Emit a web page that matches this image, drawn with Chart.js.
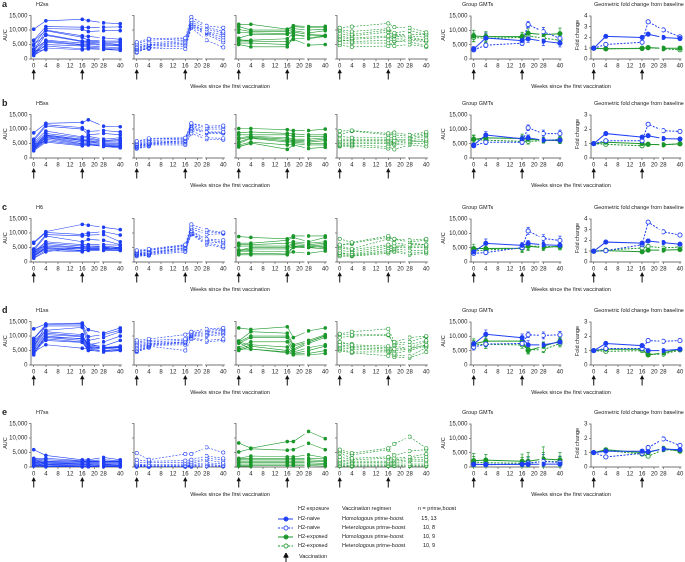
<!DOCTYPE html>
<html>
<head>
<meta charset="utf-8">
<script src="https://cdn.jsdelivr.net/npm/chart.js@4.4.1/dist/chart.umd.min.js"></script>
<style>
  body { margin: 0; width: 685px; height: 562px; position: relative; background: #fff; overflow: hidden;
         font-family: "Liberation Sans", Arial, sans-serif; color: #222; }
  canvas { position: absolute; }
  .t { position: absolute; white-space: nowrap; line-height: 1; }
</style>
</head>
<body>
<script>
// sampling weeks and axis ticks
const weeks = [0, 4, 16, 18, 28, 40];
const tickWeeks = [0, 4, 8, 12, 16, 20, 28, 40];
const vaccWeeks = [0, 16];
const antigens = ['H2ss', 'H5ss', 'H6', 'H1ss', 'H7ss'];
const foldMax = [4, 3, 4, 3, 3];

// individual AUC (x1000), one row per participant, columns = weeks
const a_naiveHom = [
  [10.3, 13.2, 13.7, 13.3, 12.5, 12.2], [6.5, 11.2, 11.0, 10.9, 11.0, 11.1], [4.7, 10.5, 10.3, 9.5, 9.8, 9.8],
  [6.2, 10.0, 8.0, 7.8, 7.3, 6.8], [3.0, 9.8, 7.5, 6.5, 6.2, 6.2], [2.5, 8.5, 6.2, 6.2, 5.8, 5.8],
  [5.0, 8.2, 6.0, 5.8, 5.5, 5.0], [2.0, 6.5, 5.5, 5.5, 5.0, 4.8], [3.5, 6.2, 5.0, 5.0, 4.8, 4.5],
  [1.8, 5.8, 4.8, 4.5, 4.2, 3.8], [1.5, 5.0, 4.5, 4.0, 3.8, 3.5], [2.2, 4.5, 3.5, 3.8, 3.5, 3.2],
  [1.2, 3.8, 3.2, 3.5, 3.3, 3.0], [1.6, 3.5, null, null, null, null], [2.8, 3.2, null, null, null, null]
];
const a_naiveHet = [
  [5.8, 7.0, 7.3, 14.5, 11.5, 10.8], [5.3, 6.5, 7.0, 13.5, 11.0, 9.5], [4.8, 5.5, 6.5, 12.8, 10.3, 9.0],
  [4.2, 5.0, 6.0, 12.3, 9.5, 8.3], [3.8, 4.8, 5.5, 12.0, 9.2, 7.5], [3.5, 4.5, 5.0, 11.5, 9.0, 6.5],
  [3.2, 4.0, 4.5, 11.0, 8.5, 5.8], [2.5, 3.8, 3.5, 10.8, 6.5, 4.0], [3.0, 3.5, null, null, null, null],
  [2.2, 4.2, null, null, null, null]
];
const a_expHom = [
  [12.0, 12.0, 10.3, 11.5, 11.2, 11.3], [11.2, 10.0, 10.0, 11.2, 10.8, 10.8], [10.2, 9.5, 9.5, 10.5, 10.0, 10.3],
  [9.2, 9.0, 8.8, 9.8, 9.0, 9.8], [7.2, 8.5, 8.5, 9.3, 8.5, 8.2], [6.5, 6.5, 7.0, 8.8, 7.3, 8.0],
  [6.2, 6.2, 6.0, 7.0, 7.0, 7.8], [5.5, 5.5, 5.0, 6.8, 4.8, 5.0], [5.0, 4.2, 4.2, 8.0, 8.3, 8.0],
  [6.8, 6.0, null, null, null, null]
];
const a_expHet = [
  [10.8, 11.2, 12.3, 11.0, 10.8, 9.2], [10.2, 9.5, 10.5, 9.0, 9.8, 8.5], [9.8, 8.5, 10.0, 8.5, 8.5, 8.5],
  [8.8, 8.0, 9.3, 8.0, 8.0, 7.5], [8.0, 7.2, 8.0, 7.8, 7.5, 6.5], [7.5, 6.8, 7.5, 7.0, 6.8, 6.5],
  [6.8, 6.0, 6.5, 6.2, 6.0, 4.5], [5.5, 5.5, 5.5, 4.5, 5.0, 4.2], [4.8, 4.2, 4.5, 6.0, 6.5, 6.0],
  [6.2, 6.5, null, null, null, null]
];
const b_naiveHom = [
  [8.7, 12.0, 12.3, 13.2, 11.0, 10.8], [6.5, 11.5, 10.5, 9.2, 9.5, 9.0], [6.0, 11.0, 10.0, 8.0, 8.5, 8.0],
  [5.5, 9.3, 7.3, 7.5, 6.5, 7.0], [5.0, 8.5, 7.0, 7.0, 6.0, 6.5], [4.5, 8.0, 6.5, 6.5, 5.8, 6.0],
  [4.0, 7.8, 6.2, 6.0, 5.5, 5.5], [3.8, 7.5, 6.0, 5.8, 5.0, 5.0], [3.5, 7.2, 5.5, 5.5, 4.8, 4.5],
  [3.2, 7.0, 5.0, 5.0, 4.5, 4.2], [3.0, 6.5, 4.8, 4.8, 4.0, 3.8], [2.8, 6.0, 4.5, 4.5, 4.2, 4.0],
  [2.5, 5.5, 4.2, 4.6, 4.0, 3.5], [4.8, 5.8, null, null, null, null], [3.3, 6.2, null, null, null, null]
];
const b_naiveHet = [
  [5.8, 6.8, 7.0, 12.0, 11.0, 11.2], [5.5, 6.5, 6.8, 11.8, 10.5, 10.8], [5.0, 6.0, 6.5, 11.3, 10.0, 10.0],
  [4.8, 5.5, 6.0, 11.0, 9.0, 9.0], [4.5, 5.2, 5.8, 10.5, 8.8, 8.8], [4.2, 5.0, 5.5, 10.0, 8.5, 8.5],
  [4.0, 4.8, 5.0, 9.5, 7.0, 6.8], [3.8, 4.5, 4.5, 8.5, 6.5, 6.3], [3.5, 4.2, null, null, null, null],
  [3.2, 4.0, null, null, null, null]
];
const b_expHom = [
  [10.2, 10.2, 9.8, 9.5, 9.5, 10.0], [8.7, 9.0, 8.5, 8.3, 8.0, 8.0], [8.0, 8.0, 8.0, 7.5, 7.5, 7.5],
  [7.0, 7.5, 7.0, 6.5, 6.5, 7.0], [6.5, 7.2, 6.5, 6.0, 6.0, 6.5], [5.5, 7.0, 6.0, 5.8, 5.5, 6.0],
  [5.0, 6.8, 5.5, 5.5, 5.0, 5.0], [4.5, 5.5, 4.5, 5.0, 4.5, 4.5], [3.8, 5.2, 3.0, 4.5, 3.3, 3.7],
  [4.0, 5.0, null, null, null, null]
];
const b_expHet = [
  [9.3, 9.5, 8.5, 8.8, 8.0, 9.0], [8.0, 9.3, 8.0, 8.0, 7.5, 8.5], [7.5, 7.0, 7.0, 7.0, 7.0, 8.0],
  [6.5, 6.5, 6.5, 6.0, 6.5, 7.5], [6.0, 6.0, 6.0, 5.5, 6.0, 6.5], [5.5, 5.5, 5.5, 5.0, 5.5, 6.0],
  [5.0, 5.0, 5.0, 4.5, 5.0, 5.0], [4.5, 4.5, 4.0, 3.0, 4.5, 4.0], [4.2, 4.0, 3.3, 6.5, 6.0, 5.5],
  [4.0, 4.3, null, null, null, null]
];
const c_naiveHom = [
  [6.8, 10.5, 13.0, 12.7, 12.0, 11.2], [6.5, 10.2, 9.5, 10.0, 10.5, 9.3], [4.5, 9.5, 9.0, 9.3, 9.5, 7.0],
  [4.0, 9.0, 7.0, 7.8, 7.5, 6.0], [3.5, 7.0, 6.0, 6.0, 6.0, 5.8], [3.2, 6.5, 5.5, 5.5, 5.5, 5.0],
  [3.0, 6.0, 5.0, 5.0, 5.0, 4.8], [2.8, 5.5, 4.8, 4.8, 4.8, 4.5], [2.5, 5.0, 4.5, 4.5, 4.5, 4.2],
  [2.2, 4.8, 4.0, 4.2, 4.2, 4.0], [2.0, 4.5, 3.8, 4.0, 4.0, 4.0], [1.5, 4.0, 3.5, 4.5, 4.5, 5.0],
  [1.3, 3.5, 5.2, 5.5, 5.2, 4.5], [4.2, 5.5, null, null, null, null], [1.8, 5.2, null, null, null, null]
];
const c_naiveHet = [
  [4.0, 4.5, 6.0, 13.0, 11.0, 10.2], [3.8, 4.2, 5.8, 12.0, 10.5, 10.0], [3.5, 4.0, 5.5, 11.5, 9.5, 9.8],
  [3.2, 3.5, 5.0, 10.8, 8.0, 7.5], [3.0, 3.2, 4.8, 10.5, 7.5, 7.0], [2.8, 3.0, 4.5, 10.0, 7.0, 6.5],
  [2.6, 2.8, 4.0, 9.8, 6.5, 5.5], [2.5, 2.5, 3.5, 9.5, 6.0, 5.0], [2.3, 2.3, null, null, null, null],
  [2.0, 2.2, null, null, null, null]
];
const c_expHom = [
  [8.8, 8.5, 8.0, 9.0, 9.0, 9.0], [6.5, 6.5, 7.5, 8.5, 7.0, 8.5], [6.0, 6.0, 6.5, 7.0, 6.5, 7.0],
  [5.5, 5.5, 5.5, 6.5, 6.0, 6.5], [4.0, 5.0, 5.0, 6.0, 5.5, 6.0], [3.8, 4.5, 4.5, 5.5, 5.0, 5.5],
  [3.5, 3.8, 3.5, 5.0, 5.0, 4.5], [2.8, 3.0, 2.8, 3.5, 3.0, 3.8], [2.5, 2.5, 2.5, 5.2, 5.5, 5.0],
  [4.2, 4.0, null, null, null, null]
];
const c_expHet = [
  [8.0, 6.8, 9.0, 8.0, 7.5, 8.0], [6.0, 6.5, 8.5, 7.8, 7.0, 7.5], [5.5, 4.5, 8.0, 6.5, 6.0, 6.0],
  [5.0, 4.2, 6.0, 5.5, 5.5, 5.5], [4.0, 3.5, 5.5, 5.0, 5.0, 5.0], [3.2, 2.8, 4.8, 4.5, 4.0, 4.0],
  [3.0, 2.5, 4.0, 4.0, 3.0, 3.5], [2.5, 2.2, 3.5, 3.5, 2.5, 3.0], [2.0, 2.0, 3.0, 5.0, 6.5, 6.0],
  [5.8, 6.2, null, null, null, null]
];
const d_naiveHom = [
  [12.5, 14.2, 14.5, 12.2, 11.0, 12.8], [9.2, 14.0, 14.2, 9.8, 10.5, 12.0], [9.0, 13.5, 13.5, 8.5, 9.5, 11.5],
  [8.5, 12.0, 13.0, 7.0, 8.0, 10.0], [8.0, 11.5, 10.5, 6.8, 6.5, 8.5], [7.5, 11.0, 10.0, 6.5, 6.0, 6.5],
  [7.0, 10.5, 9.8, 6.2, 5.8, 6.2], [6.5, 10.0, 9.0, 6.0, 5.5, 6.0], [6.0, 9.5, 8.5, 5.5, 5.0, 5.5],
  [5.5, 9.0, 8.0, 5.2, 4.5, 5.0], [5.0, 8.5, 7.8, 5.0, 4.8, 5.2], [4.5, 7.0, 5.8, 5.5, 6.2, 6.0],
  [3.5, 9.5, 9.2, 7.5, 6.0, 6.5], [6.2, 13.8, null, null, null, null], [4.0, 10.2, null, null, null, null]
];
const d_naiveHet = [
  [8.5, 9.0, 10.5, 11.5, 12.5, 12.8], [8.0, 8.5, 9.0, 11.0, 12.0, 12.5], [7.5, 8.0, 8.5, 10.8, 11.5, 12.0],
  [7.0, 7.5, 8.0, 10.5, 11.0, 11.5], [6.5, 7.2, 7.8, 10.2, 10.5, 11.0], [6.0, 7.0, 7.5, 10.0, 10.0, 10.5],
  [5.5, 6.8, 7.0, 9.5, 8.5, 9.0], [5.0, 6.5, 5.0, 9.0, 8.0, 8.5], [4.8, 6.2, null, null, null, null],
  [4.5, 6.0, null, null, null, null]
];
const d_expHom = [
  [12.8, 12.3, 13.2, 9.5, 11.8, 12.8], [8.3, 11.5, 11.0, 7.0, 8.5, 10.5], [8.0, 10.0, 10.0, 6.5, 8.0, 10.0],
  [7.5, 9.5, 9.5, 5.0, 7.5, 9.5], [6.0, 8.0, 8.0, 4.5, 6.0, 7.0], [5.5, 7.0, 6.2, 4.0, 5.0, 6.5],
  [5.0, 6.5, 5.0, 3.8, 4.0, 5.0], [5.5, 5.5, 4.5, 3.5, 3.5, 4.0], [7.8, 5.5, 4.2, 5.5, 8.0, 10.2],
  [8.0, 6.8, null, null, null, null]
];
const d_expHet = [
  [10.8, 11.5, 12.5, 8.0, 9.5, 10.0], [10.5, 10.5, 10.5, 7.5, 8.0, 9.8], [9.5, 10.0, 10.3, 7.0, 7.0, 8.5],
  [8.0, 7.0, 6.5, 5.5, 6.0, 8.0], [7.0, 6.5, 6.0, 5.0, 5.5, 7.0], [6.5, 6.0, 5.5, 4.0, 5.0, 6.5],
  [6.0, 5.5, 5.0, 3.5, 3.0, 6.0], [5.5, 4.5, 4.5, 2.8, 2.5, 4.5], [5.0, 4.2, 3.2, 6.5, 5.8, 6.8],
  [7.5, 7.2, null, null, null, null]
];
const e_naiveHom = [
  [6.0, 4.0, 2.5, 2.5, 3.3, 2.5], [3.0, 3.0, 2.2, 2.2, 2.5, 2.2], [2.8, 2.5, 2.0, 2.0, 2.0, 2.0],
  [2.5, 2.0, 1.8, 1.8, 1.8, 1.8], [2.2, 1.8, 1.5, 1.5, 1.5, 1.5], [2.0, 1.5, 1.2, 1.2, 1.2, 1.2],
  [1.8, 1.2, 1.0, 1.0, 1.0, 0.8], [1.5, 1.0, 0.8, 0.8, 0.5, 0.5], [1.2, 0.8, 0.5, 0.5, 0.8, 0.6],
  [1.0, 0.5, 0.3, 0.3, 0.4, 0.3], [0.8, 0.3, 0.2, 0.2, 0.3, 0.2], [0.5, 0.2, 0.1, 0.1, 0.2, 0.1],
  [0.3, 0.1, 0.1, 0.1, 0.1, 0.1], [1.6, 1.4, null, null, null, null], [0.6, 0.4, null, null, null, null]
];
const e_naiveHet = [
  [4.8, 2.5, 4.5, 4.5, 6.8, 5.0], [2.5, 2.0, 2.2, 2.5, 3.8, 3.0], [1.5, 1.5, 1.5, 1.8, 3.0, 2.5],
  [1.0, 0.8, 1.0, 1.2, 2.5, 1.5], [0.8, 0.5, 0.5, 0.8, 1.5, 1.0], [0.5, 0.3, 0.3, 0.5, 1.0, 0.5],
  [0.3, 0.2, 0.2, 0.3, 0.5, 0.3], [0.2, 0.1, 0.1, 0.1, 0.2, 0.2], [0.1, 0.1, null, null, null, null],
  [0.6, 0.4, null, null, null, null]
];
const e_expHom = [
  [8.3, 6.5, 8.8, 8.8, 12.3, 9.8], [5.2, 6.3, 5.8, 6.0, 8.2, 6.0], [3.0, 3.8, 3.5, 3.5, 4.2, 3.2],
  [2.8, 3.0, 3.0, 3.0, 3.0, 2.8], [2.5, 2.5, 2.5, 2.5, 2.5, 2.2], [2.0, 2.0, 2.0, 2.0, 2.0, 1.8],
  [1.5, 1.5, 1.5, 1.5, 1.5, 1.2], [1.0, 1.0, 1.0, 1.0, 1.0, 0.8], [0.5, 0.5, 0.5, 0.5, 0.5, 0.3],
  [0.3, 0.2, null, null, null, null]
];
const e_expHet = [
  [6.0, 4.8, 6.5, 8.0, 10.5, 6.5], [5.5, 4.2, 6.0, 4.0, 5.5, 6.0], [4.8, 3.0, 3.5, 3.0, 3.5, 4.5],
  [3.5, 2.5, 3.0, 2.5, 3.0, 3.5], [2.5, 2.0, 2.0, 2.0, 2.5, 2.5], [2.0, 1.5, 1.5, 1.5, 2.0, 2.0],
  [1.5, 1.0, 1.0, 1.0, 1.0, 1.0], [1.0, 0.5, 0.5, 0.5, 0.5, 0.5], [0.5, 0.3, 0.3, 0.3, 0.3, 0.3],
  [0.3, 0.2, null, null, null, null]
];

// group GMTs (x1000), error half-widths and fold change; order: naive hom, naive het, exposed hom, exposed het
const a_gmt = [[3.5, 7.3, 6.4, 7.0, 6.2, 5.5], [3.2, 4.8, 5.5, 12.0, 9.5, 7.2], [8.0, 7.8, 7.8, 9.0, 8.5, 8.8], [7.5, 7.2, 7.5, 8.0, 7.3, 6.5]];
const a_err = [[0.8, 1.8, 1.5, 1.2, 1.5, 1.3], [0.7, 0.8, 0.8, 1.0, 1.5, 1.5], [2.0, 1.8, 1.5, 1.5, 1.5, 2.0], [1.5, 1.5, 1.2, 1.2, 1.2, 1.2]];
const a_fold = [[1, 2.1, 2.0, 2.3, 2.0, 1.9], [1, 1.35, 1.55, 3.45, 2.7, 2.05], [1, 0.95, 0.97, 1.05, 1.0, 1.0], [1, 0.95, 1.0, 1.05, 0.95, 0.85]];
const b_gmt = [[4.5, 8.0, 6.7, 7.0, 6.2, 6.2], [4.3, 5.5, 5.5, 10.5, 8.5, 8.5], [6.5, 7.0, 6.8, 6.5, 6.2, 6.0], [6.5, 6.2, 5.8, 5.8, 6.0, 6.5]];
const b_err = [[0.6, 1.2, 1.2, 1.0, 1.0, 1.0], [0.7, 0.8, 0.8, 1.0, 1.2, 1.2], [1.5, 1.5, 1.5, 1.2, 1.0, 1.0], [1.2, 1.2, 1.0, 1.0, 0.8, 1.0]];
const b_fold = [[1, 1.7, 1.45, 1.55, 1.35, 1.32], [1, 1.2, 1.2, 2.35, 1.9, 1.85], [1, 1.1, 1.0, 0.95, 0.92, 0.98], [1, 0.95, 0.85, 0.95, 0.92, 1.0]];
const c_gmt = [[3.5, 6.5, 5.8, 6.5, 6.0, 5.8], [3.0, 3.3, 5.0, 10.8, 8.2, 7.5], [4.7, 4.7, 4.8, 5.5, 5.0, 5.5], [3.8, 4.2, 4.8, 5.5, 5.5, 5.2]];
const c_err = [[0.7, 1.5, 1.0, 1.0, 1.0, 1.0], [0.5, 0.5, 0.8, 1.2, 1.3, 1.5], [1.5, 1.2, 1.5, 1.5, 1.0, 1.0], [1.0, 1.0, 1.2, 1.2, 1.0, 1.0]];
const c_fold = [[1, 1.85, 1.75, 1.95, 1.8, 1.65], [1, 1.05, 1.6, 3.7, 2.8, 2.5], [1, 1.05, 0.95, 1.1, 1.1, 1.15], [1, 1.1, 1.3, 1.45, 1.3, 1.4]];
const d_gmt = [[7.3, 10.7, 9.5, 7.0, 7.0, 8.0], [6.2, 7.3, 7.5, 10.5, 10.3, 10.5], [7.3, 8.3, 8.3, 5.0, 6.5, 8.3], [7.0, 7.2, 7.0, 5.3, 5.3, 7.5]];
const d_err = [[1.0, 1.5, 1.3, 1.5, 1.0, 1.2], [1.0, 1.0, 1.0, 1.0, 1.2, 1.2], [1.8, 1.5, 1.5, 1.2, 1.5, 1.2], [1.5, 1.5, 1.2, 1.2, 1.0, 1.2]];
const d_fold = [[1, 1.5, 1.35, 1.0, 1.0, 1.1], [1, 1.15, 1.15, 1.7, 1.65, 1.7], [1, 1.1, 1.1, 0.7, 0.85, 1.1], [1, 0.95, 1.0, 0.75, 0.75, 1.05]];
const e_gmt = [[0.9, 0.9, 0.9, 0.9, 1.0, 1.0], [1.0, 0.8, 1.0, 1.4, 1.9, 1.6], [2.2, 2.4, 2.0, 2.0, 2.8, 2.5], [1.7, 1.5, 1.3, 1.2, 2.0, 1.8]];
const e_err = [[1.0, 1.0, 1.0, 1.0, 1.2, 1.2], [1.2, 1.0, 1.2, 1.8, 2.5, 2.0], [2.5, 2.0, 2.5, 3.0, 4.2, 2.5], [2.0, 1.5, 2.0, 2.5, 3.0, 2.0]];
const e_fold = [[1, 1.1, 1.1, 1.05, 1.25, 1.2], [1, 0.7, 0.95, 1.35, 1.95, 1.5], [1, 1.2, 1.0, 1.0, 1.3, 1.1], [1, 1.15, 0.9, 0.75, 1.2, 1.15]];

// legend text
const legExposure = ['H2-naive', 'H2-naive', 'H2-exposed', 'H2-exposed'];
const legRegimen = ['Homologous prime-boost', 'Heterologous prime-boost', 'Homologous prime-boost', 'Heterologous prime-boost'];
const legN = ['15, 13', '10, 8', '10, 9', '10, 9'];

const BLUE = '#1f3ff5';
const GREEN = '#1b972b';
const styles = [
  { color: BLUE, open: false, dash: [] },
  { color: BLUE, open: true, dash: [2, 1.4] },
  { color: GREEN, open: false, dash: [] },
  { color: GREEN, open: true, dash: [2, 1.4] }
];

const rows = [
  { letter: 'a', top: 14, indiv: [a_naiveHom, a_naiveHet, a_expHom, a_expHet], gmt: a_gmt, err: a_err, fold: a_fold },
  { letter: 'b', top: 113, indiv: [b_naiveHom, b_naiveHet, b_expHom, b_expHet], gmt: b_gmt, err: b_err, fold: b_fold },
  { letter: 'c', top: 217, indiv: [c_naiveHom, c_naiveHet, c_expHom, c_expHet], gmt: c_gmt, err: c_err, fold: c_fold },
  { letter: 'd', top: 320, indiv: [d_naiveHom, d_naiveHet, d_expHom, d_expHet], gmt: d_gmt, err: d_err, fold: d_fold },
  { letter: 'e', top: 422, indiv: [e_naiveHom, e_naiveHet, e_expHom, e_expHet], gmt: e_gmt, err: e_err, fold: e_fold }
];

// layout (px)
const panelX0 = [34, 137, 239, 340, 474, 594];  // pixel of week 0 in each column
const AREA_W = 91, AREA_H = 45, AXW = 30, PAD_T = 3, PAD_R = 4, XH = 10, PAD_B = 12;
const X_MIN = -0.9, X_MAX = 28.9;
const PXU = AREA_W / (X_MAX - X_MIN);

// broken time axis: weeks after the break are compressed
function wx(w) { return w <= 22 ? w : 23 + (w - 28) * 0.46; }
function pts(vals) { return vals.map((v, i) => ({ x: wx(weeks[i]), y: v })); }

Chart.defaults.font.family = '"Liberation Sans", Arial, sans-serif';
Chart.defaults.font.size = 6;
Chart.defaults.color = '#222';

const decor = {
  id: 'decor',
  beforeDatasetsDraw(chart) {
    const ctx = chart.ctx, xs = chart.scales.x, ys = chart.scales.y;
    ctx.save();
    chart.data.datasets.forEach(ds => {
      if (!ds.errs) return;
      ctx.strokeStyle = ds.borderColor;
      ctx.lineWidth = 0.7;
      ctx.setLineDash([]);
      ds.data.forEach((p, i) => {
        if (p.y == null) return;
        const x = xs.getPixelForValue(p.x);
        const y1 = ys.getPixelForValue(p.y + ds.errs[i]);
        const y2 = ys.getPixelForValue(Math.max(0, p.y - ds.errs[i]));
        ctx.beginPath();
        ctx.moveTo(x, y1); ctx.lineTo(x, y2);
        ctx.moveTo(x - 1.6, y1); ctx.lineTo(x + 1.6, y1);
        ctx.moveTo(x - 1.6, y2); ctx.lineTo(x + 1.6, y2);
        ctx.stroke();
      });
    });
    ctx.restore();
  },
  afterDatasetsDraw(chart) {
    const ctx = chart.ctx, xs = chart.scales.x, ca = chart.chartArea;
    const a = xs.getPixelForValue(21.7), b = xs.getPixelForValue(22.5);
    ctx.save();
    ctx.fillStyle = '#fff';
    ctx.fillRect(a, ca.top - 4, b - a, ca.bottom - ca.top + 6);
    ctx.restore();
  },
  afterDraw(chart) {
    const ctx = chart.ctx, xs = chart.scales.x, ca = chart.chartArea;
    ctx.save();
    ctx.fillStyle = '#111';
    ctx.strokeStyle = '#111';
    ctx.lineWidth = 1;
    vaccWeeks.forEach(w => {
      const x = xs.getPixelForValue(wx(w));
      const y0 = ca.bottom + 10;
      ctx.beginPath();
      ctx.moveTo(x, y0 + 3); ctx.lineTo(x, y0 + 10.5);
      ctx.stroke();
      ctx.beginPath();
      ctx.moveTo(x, y0); ctx.lineTo(x - 2.2, y0 + 4.2); ctx.lineTo(x + 2.2, y0 + 4.2);
      ctx.closePath(); ctx.fill();
    });
    ctx.restore();
  }
};

function makePanel(col, top, datasets, yMax, yStep, yFmt) {
  const cv = document.createElement('canvas');
  const w = AXW + AREA_W + PAD_R, h = PAD_T + AREA_H + XH + PAD_B;
  cv.width = w; cv.height = h;
  cv.style.left = (panelX0[col] + X_MIN * PXU - AXW) + 'px';
  cv.style.top = (top - PAD_T) + 'px';
  cv.style.width = w + 'px'; cv.style.height = h + 'px';
  document.body.appendChild(cv);
  new Chart(cv, {
    type: 'line',
    data: { datasets },
    options: {
      responsive: false, animation: false, events: [], devicePixelRatio: 2,
      layout: { padding: { top: PAD_T, right: PAD_R, bottom: PAD_B, left: 0 } },
      plugins: { legend: { display: false }, tooltip: { enabled: false } },
      scales: {
        x: {
          type: 'linear', min: X_MIN, max: X_MAX,
          afterBuildTicks: s => { s.ticks = tickWeeks.map(t => ({ value: wx(t) })); },
          afterFit: s => { s.height = XH; s.paddingLeft = 0; s.paddingRight = 0; },
          ticks: { callback: (v, i) => String(tickWeeks[i]), padding: 1, maxRotation: 0, autoSkip: false },
          grid: { drawOnChartArea: false, tickLength: 2, color: '#444', lineWidth: 0.6 },
          border: { color: '#444', width: 0.7 }
        },
        y: {
          min: 0, max: yMax,
          afterFit: s => { s.width = AXW; s.paddingTop = 0; s.paddingBottom = 0; },
          ticks: { stepSize: yStep, padding: 1.5, callback: yFmt },
          grid: { drawOnChartArea: false, tickLength: 2, color: '#444', lineWidth: 0.6 },
          border: { color: '#444', width: 0.7 }
        }
      }
    },
    plugins: [decor]
  });
}

function lineSet(vals, st, big, errs) {
  return {
    data: pts(vals), errs,
    borderColor: st.color, borderWidth: big ? 1 : 0.6, borderDash: st.dash,
    pointRadius: big ? 2.1 : (st.open ? 1.7 : 1.5), pointBorderWidth: big ? 0.9 : 0.6,
    pointBackgroundColor: st.open ? '#fff' : st.color, pointBorderColor: st.color,
    clip: false, spanGaps: false
  };
}

function text(txt, x, y, o = {}) {
  const d = document.createElement('div');
  d.className = 't';
  d.textContent = txt;
  d.style.left = x + 'px';
  d.style.top = y + 'px';
  d.style.fontSize = (o.size || 5.5) + 'px';
  if (o.bold) d.style.fontWeight = 'bold';
  const tx = o.center ? '-50%' : '0';
  d.style.transform = `translate(${tx},-50%)` + (o.rot ? ` rotate(${o.rot}deg)` : '');
  document.body.appendChild(d);
}

const aucFmt = v => (v * 1000).toLocaleString('en-US');
const noFmt = () => '';

rows.forEach((r, ri) => {
  for (let g = 0; g < 4; g++) {
    const sets = r.indiv[g].map(s => lineSet(s, styles[g], false));
    makePanel(g, r.top, sets, 15, 5, g === 0 ? aucFmt : noFmt);
  }
  makePanel(4, r.top, r.gmt.map((s, g) => lineSet(s, styles[g], true, r.err[g])), 15, 5, aucFmt);
  makePanel(5, r.top, r.fold.map((s, g) => lineSet(s, styles[g], true)), foldMax[ri], 1, v => String(v));

  text(r.letter, 2, r.top - 10, { size: 9, bold: true });
  text(antigens[ri], 36, r.top - 9);
  text('Group GMTs', 462, r.top - 9);
  text('Geometric fold change from baseline', 594, r.top - 9);
  text('AUC', 6, r.top + 21, { center: true, rot: -90 });
  text('AUC', 444, r.top + 21, { center: true, rot: -90 });
  text('Fold change', 578, r.top + 21, { center: true, rot: -90 });
  text('Weeks since the first vaccination', 230, r.top + 73, { center: true });
  text('Weeks since the first vaccination', 571, r.top + 73, { center: true });
});

// legend
text('H2 exposure', 298, 509);
text('Vaccination regimen', 342, 509);
text('n = prime,boost', 418, 509);
const ns = 'http://www.w3.org/2000/svg';
const svg = document.createElementNS(ns, 'svg');
svg.setAttribute('width', 30); svg.setAttribute('height', 60);
svg.style.position = 'absolute'; svg.style.left = '270px'; svg.style.top = '510px';
styles.forEach((st, i) => {
  const y = 9 + i * 9;
  const ln = document.createElementNS(ns, 'line');
  ln.setAttribute('x1', 8); ln.setAttribute('x2', 23); ln.setAttribute('y1', y); ln.setAttribute('y2', y);
  ln.setAttribute('stroke', st.color); ln.setAttribute('stroke-width', 1);
  if (st.dash.length) ln.setAttribute('stroke-dasharray', st.dash.join(' '));
  svg.appendChild(ln);
  const c = document.createElementNS(ns, 'circle');
  c.setAttribute('cx', 16); c.setAttribute('cy', y); c.setAttribute('r', 2.1);
  c.setAttribute('fill', st.open ? '#fff' : st.color); c.setAttribute('stroke', st.color); c.setAttribute('stroke-width', 0.9);
  svg.appendChild(c);
  text(legExposure[i], 298, 510 + y);
  text(legRegimen[i], 342, 510 + y);
  text(legN[i], 429, 510 + y, { center: true });
});
const ar = document.createElementNS(ns, 'path');
ar.setAttribute('d', 'M16 43 L13.8 47.2 L18.2 47.2 Z M16 46 L16 52');
ar.setAttribute('fill', '#111'); ar.setAttribute('stroke', '#111'); ar.setAttribute('stroke-width', 1);
svg.appendChild(ar);
document.body.appendChild(svg);
text('Vaccination', 299, 557);
</script>
</body>
</html>
